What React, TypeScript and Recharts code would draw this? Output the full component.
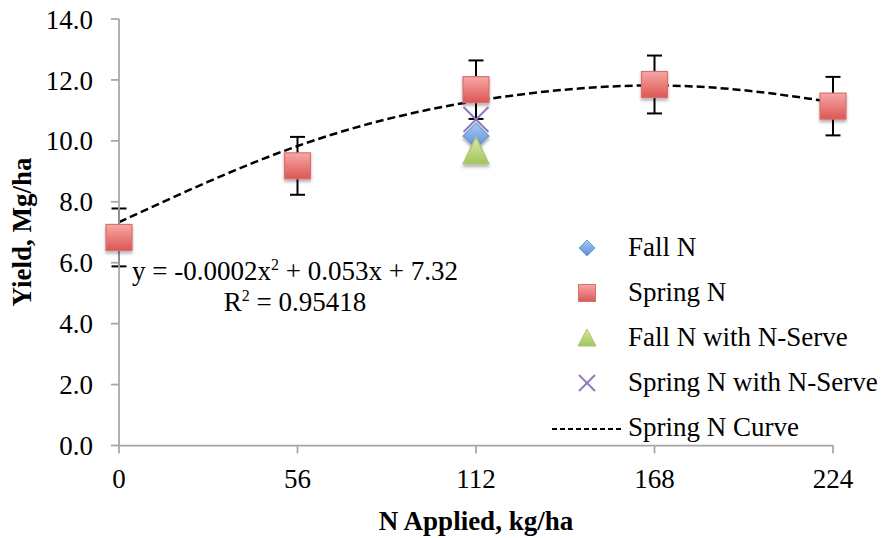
import React from "react";
import {
  ComposedChart,
  Scatter,
  Line,
  XAxis,
  YAxis,
  ErrorBar,
  Legend,
} from "recharts";

// N rates (kg/ha) and yields (Mg/ha)
const nRates = [0, 56, 112, 168, 224];
const springN = [6.83, 9.18, 11.68, 11.85, 11.14];
const springNErr = [0.95, 0.95, 0.96, 0.95, 0.96];

const servedRate = [112];
const fallN = [10.16];
const fallNServe = [9.67];
const springNServe = [10.7];

// fitted quadratic (trendline)
const curveX = [0, 28, 56, 84, 112, 140, 168, 196, 224];
const curveY = [7.33, 8.66, 9.83, 10.71, 11.31, 11.68, 11.82, 11.66, 11.27];

const yTicks = [0, 2, 4, 6, 8, 10, 12, 14];

const legendItems = [
  { name: "Fall N", kind: "diamond" },
  { name: "Spring N", kind: "square" },
  { name: "Fall N with N-Serve", kind: "triangle" },
  { name: "Spring N with N-Serve", kind: "cross" },
  { name: "Spring N Curve", kind: "dash" },
];

const FONT = "'Liberation Serif', serif";
const FS = 27;
const AXIS = "#a6a6a6";

const springData = nRates.map((x, i) => ({ x, y: springN[i], err: springNErr[i] }));
const fallData = servedRate.map((x, i) => ({ x, y: fallN[i] }));
const fallServeData = servedRate.map((x, i) => ({ x, y: fallNServe[i] }));
const springServeData = servedRate.map((x, i) => ({ x, y: springNServe[i] }));
const curveData = curveX.map((x, i) => ({ x, y: curveY[i] }));

const Square = (props: any) => {
  const { cx, cy } = props;
  const s = 26;
  return (
    <rect
      x={cx - s / 2}
      y={cy - s / 2}
      width={s}
      height={s}
      fill="url(#gRed)"
      stroke="#d7706e"
      strokeWidth={1.2}
      filter="url(#shadow)"
    />
  );
};

const Diamond = (props: any) => {
  const { cx, cy } = props;
  const h = 13;
  return (
    <polygon
      points={`${cx},${cy - h} ${cx + h},${cy} ${cx},${cy + h} ${cx - h},${cy}`}
      fill="url(#gBlue)"
      stroke="#6f9bd6"
      strokeWidth={1.2}
      filter="url(#shadow)"
    />
  );
};

const Triangle = (props: any) => {
  const { cx, cy } = props;
  return (
    <polygon
      points={`${cx},${cy - 14} ${cx + 13},${cy + 13} ${cx - 13},${cy + 13}`}
      fill="url(#gGreen)"
      stroke="#a9c86c"
      strokeWidth={1.2}
      filter="url(#shadow)"
    />
  );
};

const Cross = (props: any) => {
  const { cx, cy } = props;
  const h = 12.5;
  return (
    <g stroke="#8f78b6" strokeWidth={2}>
      <line x1={cx - h} y1={cy - h} x2={cx + h} y2={cy + h} />
      <line x1={cx - h} y1={cy + h} x2={cx + h} y2={cy - h} />
    </g>
  );
};

const LegendIcon = ({ kind }: { kind: string }) => {
  if (kind === "dash") {
    return (
      <svg width={76} height={20} style={{ marginLeft: -25, marginRight: 2 }}>
        <line x1={2} y1={11} x2={74} y2={11} stroke="#000" strokeWidth={2} strokeDasharray="5 3" />
      </svg>
    );
  }
  return (
    <svg width={24} height={24} style={{ marginRight: 29 }}>
      <defs>
        <linearGradient id={`lg-${kind}`} x1="0" y1="0" x2="0" y2="1">
          {kind === "diamond" && <stop offset="0" stopColor="#a8c8f2" />}
          {kind === "diamond" && <stop offset="1" stopColor="#5a8ed6" />}
          {kind === "square" && <stop offset="0" stopColor="#f6a6a4" />}
          {kind === "square" && <stop offset="1" stopColor="#dc5856" />}
          {kind === "triangle" && <stop offset="0" stopColor="#d8eaa8" />}
          {kind === "triangle" && <stop offset="1" stopColor="#a3c55a" />}
        </linearGradient>
      </defs>
      {kind === "diamond" && (
        <polygon points="12,4 20,12 12,20 4,12" fill={`url(#lg-${kind})`} stroke="#6f9bd6" />
      )}
      {kind === "square" && (
        <rect x={3.5} y={3.5} width={17} height={17} fill={`url(#lg-${kind})`} stroke="#d7706e" />
      )}
      {kind === "triangle" && (
        <polygon points="12,3 21,20 3,20" fill={`url(#lg-${kind})`} stroke="#a9c86c" />
      )}
      {kind === "cross" && (
        <g stroke="#8f78b6" strokeWidth={1.8}>
          <line x1={4} y1={4} x2={20} y2={20} />
          <line x1={4} y1={20} x2={20} y2={4} />
        </g>
      )}
    </svg>
  );
};

const renderLegend = () => (
  <div style={{ fontFamily: FONT, fontSize: FS, color: "#000" }}>
    {legendItems.map((it) => (
      <div key={it.name} style={{ display: "flex", alignItems: "center", height: 45, whiteSpace: "nowrap" }}>
        <LegendIcon kind={it.kind} />
        <span>{it.name}</span>
      </div>
    ))}
  </div>
);

export default function App() {
  return (
    <div style={{ position: "absolute", left: 0, top: 0, width: 882, height: 538, background: "#fff" }}>
      <ComposedChart
        width={882}
        height={538}
        margin={{ top: 19, right: 49, bottom: 32.5, left: 0 }}
      >
        <defs>
          <linearGradient id="gRed" x1="0" y1="0" x2="0" y2="1">
            <stop offset="0" stopColor="#f7a8a6" />
            <stop offset="1" stopColor="#dc5654" />
          </linearGradient>
          <linearGradient id="gBlue" x1="0" y1="0" x2="0" y2="1">
            <stop offset="0" stopColor="#a8c8f2" />
            <stop offset="1" stopColor="#5a8ed6" />
          </linearGradient>
          <linearGradient id="gGreen" x1="0" y1="0" x2="0" y2="1">
            <stop offset="0" stopColor="#d8eaa8" />
            <stop offset="1" stopColor="#a3c55a" />
          </linearGradient>
          <filter id="shadow" x="-50%" y="-50%" width="200%" height="200%">
            <feDropShadow dx="0" dy="2.5" stdDeviation="1.8" floodColor="#000" floodOpacity="0.3" />
          </filter>
        </defs>
        <XAxis
          type="number"
          dataKey="x"
          domain={[0, 224]}
          ticks={nRates}
          height={60}
          tickSize={8}
          tickMargin={15}
          stroke={AXIS}
          strokeWidth={1.75}
          tick={{ fill: "#000", fontSize: FS, fontFamily: FONT }}
        />
        <YAxis
          type="number"
          dataKey="y"
          domain={[0, 14]}
          ticks={yTicks}
          width={119}
          tickSize={8}
          tickMargin={18}
          stroke={AXIS}
          strokeWidth={1.75}
          tickFormatter={(v: number) => v.toFixed(1)}
          tick={{ fill: "#000", fontSize: FS, fontFamily: FONT }}
        />
        <Legend
          layout="vertical"
          align="center"
          verticalAlign="middle"
          content={renderLegend}
          wrapperStyle={{ position: "absolute", left: 575, top: 225, width: 307 }}
        />
        <Scatter data={springData} name="Spring N" shape={Square} isAnimationActive={false}>
          <ErrorBar dataKey="err" direction="y" width={7.5} stroke="#000" strokeWidth={2} />
        </Scatter>
        <Scatter data={springServeData} name="Spring N with N-Serve" shape={Cross} isAnimationActive={false} />
        <Scatter data={fallData} name="Fall N" shape={Diamond} isAnimationActive={false} />
        <Scatter data={fallServeData} name="Fall N with N-Serve" shape={Triangle} isAnimationActive={false} />
        <Line
          data={curveData}
          dataKey="y"
          type="natural"
          stroke="#000"
          strokeWidth={2.5}
          strokeDasharray="8 4"
          dot={false}
          activeDot={false}
          isAnimationActive={false}
        />
      </ComposedChart>

      <div
        style={{
          position: "absolute",
          left: 95,
          top: 256,
          width: 400,
          textAlign: "center",
          fontFamily: FONT,
          fontSize: FS,
          lineHeight: "31px",
          color: "#000",
        }}
      >
        <div>
          y = -0.0002x<sup style={{ fontSize: 16, verticalAlign: 10, lineHeight: 0 }}>2</sup> + 0.053x + 7.32
        </div>
        <div>
          R<sup style={{ fontSize: 16, verticalAlign: 10, lineHeight: 0 }}>2</sup> = 0.95418
        </div>
      </div>

      <div
        style={{
          position: "absolute",
          left: 22,
          top: 232,
          transform: "translate(-50%, -50%) rotate(-90deg)",
          whiteSpace: "nowrap",
          fontFamily: FONT,
          fontWeight: "bold",
          fontSize: FS,
          color: "#000",
        }}
      >
        Yield, Mg/ha
      </div>
      <div
        style={{
          position: "absolute",
          left: 476,
          top: 521,
          transform: "translate(-50%, -50%)",
          whiteSpace: "nowrap",
          fontFamily: FONT,
          fontWeight: "bold",
          fontSize: FS,
          color: "#000",
        }}
      >
        N Applied, kg/ha
      </div>
    </div>
  );
}
